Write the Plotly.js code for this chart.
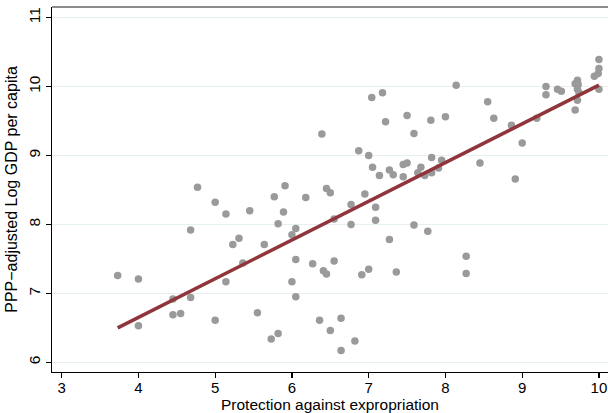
<!DOCTYPE html>
<html>
<head>
<meta charset="utf-8">
<script src="https://cdn.plot.ly/plotly-3.0.1.min.js"></script>
<style>html,body{margin:0;padding:0;background:#fff;}#chart{width:608px;height:413px;}</style>
</head>
<body>
<div id="chart"></div>
<script>
// Protection against expropriation (x) vs PPP-adjusted log GDP per capita (y)
const expropX = [3.73,4.00,4.00,4.45,4.45,4.55,4.68,4.68,4.77,5.00,5.00,5.14,5.14,5.23,5.31,5.36,5.45,5.55,5.64,5.73,
  5.77,5.82,5.82,5.89,5.91,6.00,6.00,6.05,6.05,6.05,6.18,6.27,6.36,6.39,6.41,6.45,6.45,6.50,6.50,6.55,
  6.55,6.64,6.64,6.77,6.77,6.82,6.87,6.91,6.95,7.00,7.00,7.04,7.05,7.09,7.09,7.14,7.18,7.22,7.27,7.27,
  7.32,7.36,7.45,7.45,7.50,7.50,7.59,7.59,7.64,7.68,7.73,7.77,7.81,7.82,7.82,7.91,7.95,8.00,8.14,8.27,
  8.27,8.45,8.55,8.63,8.86,8.91,9.00,9.19,9.31,9.31,9.46,9.51,9.69,9.72,9.73,9.72,9.74,9.72,9.69,9.94,
  9.99,10.00,10.00,10.00];
const logGdp = [7.26,7.21,6.53,6.69,6.92,6.71,6.94,7.92,8.54,8.32,6.61,8.15,7.17,7.71,7.80,7.44,8.20,6.72,7.71,6.34,
  8.40,8.01,6.42,8.18,8.56,7.85,7.17,7.94,7.49,6.95,8.39,7.43,6.61,9.31,7.33,7.28,8.52,8.46,6.46,7.47,
  8.08,6.64,6.17,8.00,8.29,6.31,9.07,7.27,8.44,9.00,7.35,9.84,8.83,8.25,8.06,8.71,9.91,9.49,8.79,7.78,
  8.72,7.31,8.69,8.87,8.89,9.58,9.32,7.99,8.75,8.83,8.71,7.90,9.51,8.97,8.75,8.82,8.93,9.56,10.02,7.54,
  7.29,8.89,9.78,9.54,9.44,8.66,9.18,9.54,10.00,9.88,9.96,9.93,10.04,10.09,10.03,9.96,9.91,9.80,9.66,10.15,
  10.19,10.26,10.39,9.96];
// fitted line end points
const fitX = [3.73, 10.00];
const fitY = [6.50, 10.02];
const xTicks = [3,4,5,6,7,8,9,10];
const yTicks = [6,7,8,9,10,11];
const xTitle = 'Protection against expropriation';
const yTitle = 'PPP\u2212adjusted Log GDP per capita';

const font = 'Liberation Sans, Arial, Helvetica, sans-serif';
const data = [
  {x: expropX, y: logGdp, type: 'scatter', mode: 'markers',
   marker: {color: '#9a9a9a', size: 7.5, line: {width: 0}}, hoverinfo: 'x+y'},
  {x: fitX, y: fitY, type: 'scatter', mode: 'lines',
   line: {color: '#90353b', width: 3.5}}
];
const layout = {
  width: 608, height: 413,
  margin: {l: 52, r: 0, t: 7, b: 41, pad: 0},
  paper_bgcolor: '#ffffff', plot_bgcolor: '#ffffff',
  showlegend: false,
  font: {family: font, size: 16, color: '#000'},
  xaxis: {
    range: [2.874, 10.118], tickvals: xTicks, ticktext: xTicks.map(String),
    showgrid: false, zeroline: false,
    showline: true, linecolor: '#000', linewidth: 1.2,
    ticks: 'outside', ticklen: 5, tickwidth: 1.2, tickcolor: '#000',
    ticklabelstandoff: -3,
    tickfont: {family: font, size: 15, color: '#000'}
  },
  yaxis: {
    range: [5.86, 11.153], tickvals: yTicks, ticktext: yTicks.map(String),
    showgrid: true, gridcolor: '#e6f0f1', gridwidth: 1, zeroline: false,
    showline: true, linecolor: '#000', linewidth: 1.2,
    ticks: 'outside', ticklen: 5, tickwidth: 1.2, tickcolor: '#000',
    tickangle: -90,
    tickfont: {family: font, size: 15.5, color: '#000'},
    title: {text: yTitle, font: {family: font, size: 16, color: '#000'}, standoff: 4}
  },
  annotations: [
    {text: xTitle, xref: 'paper', yref: 'paper', x: 0.5, y: -0.0655,
     xanchor: 'center', yanchor: 'top', showarrow: false, borderpad: 0, borderwidth: 0,
     font: {family: font, size: 15.5, color: '#000'}}
  ],
  shapes: [
    {type: 'line', xref: 'paper', yref: 'paper', x0: 0, x1: 1, y0: 1, y1: 1,
     line: {color: '#666666', width: 1.5}}
  ]
};
Plotly.newPlot('chart', data, layout, {displayModeBar: false, staticPlot: true});
</script>
</body>
</html>
